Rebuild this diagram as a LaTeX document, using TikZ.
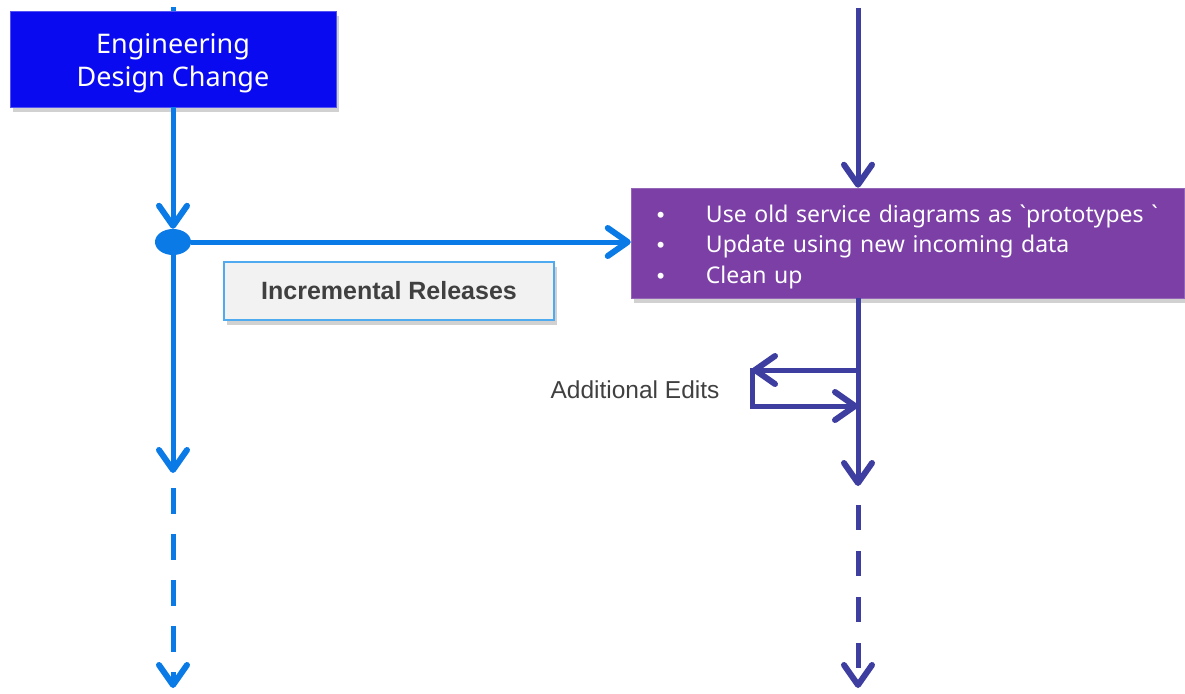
\documentclass[tikz,border=0pt]{standalone}
\usepackage{fontspec}
\setmainfont{Liberation Sans}
\newfontfamily\boxfont{Noto Sans}
\newfontfamily\bulletfont{Liberation Sans}
\usetikzlibrary{arrows.meta,shadows,shapes.geometric}
\definecolor{engblue}{RGB}{10,10,240}
\definecolor{flowblue}{RGB}{10,122,230}
\definecolor{flowpurple}{RGB}{62,62,160}
\definecolor{boxpurple}{RGB}{123,63,166}
\definecolor{relborder}{RGB}{80,170,240}
\definecolor{relfill}{RGB}{242,242,242}
\definecolor{textgray}{RGB}{64,64,64}
\tikzset{
  tipv/.tip={Straight Barb[length=20pt,width=28pt,round,line width=6pt]},
  bflow/.style={draw=flowblue,line width=5pt,-tipv},
  pflow/.style={draw=flowpurple,line width=5pt,-tipv},
  bdash/.style={dash pattern=on 26pt off 20pt},
  pdash/.style={dash pattern=on 25pt off 21pt},
  shadowed/.style={drop shadow={shadow xshift=3pt,shadow yshift=-5pt,opacity=0.3,fill=black!60}},
  engbox/.style={shadowed,fill=engblue,draw=engblue!70,line width=0.5pt,
    minimum width=326pt,minimum height=96pt,inner sep=0pt},
  engtext/.style={text=white,inner sep=0pt,align=center,
    font=\boxfont\fontsize{27}{33}\selectfont},
  procbox/.style={shadowed,fill=boxpurple,draw=boxpurple!80,line width=0.5pt,
    minimum width=553pt,minimum height=110pt,inner sep=0pt},
  proctext/.style={text=white,inner sep=0pt,text width=520pt,align=left,
    font=\boxfont\fontsize{23}{30.5}\selectfont},
  relbox/.style={shadowed,fill=relfill,draw=relborder,line width=1.5pt,text=textgray,
    minimum width=330pt,minimum height=58pt,inner sep=0pt,
    font=\bfseries\fontsize{25}{28}\selectfont},
  dotnode/.style={ellipse,fill=flowblue,minimum width=36pt,minimum height=26pt,inner sep=0pt},
  lbl/.style={text=textgray,inner sep=0pt,font=\fontsize{24.5}{28}\selectfont}
}
\newcommand{\blt}{\makebox[49pt][l]{\bulletfont\fontsize{22}{22}\selectfont\textbullet}}
\begin{document}
\begin{tikzpicture}[x=1pt,y=-1pt]
\useasboundingbox (0,0) rectangle (1185,693);
% left flow coordinates
\coordinate (etop) at (173,7);
\coordinate (b1) at (173,473);
\coordinate (b1s) at (173,488);
\coordinate (b2) at (173,688);
% right flow coordinates
\coordinate (ptop) at (858,8);
\coordinate (p1) at (858,486);
\coordinate (p1s) at (858,505);
\coordinate (p2) at (858,688);
\coordinate (l1) at (858,370);
\coordinate (l2) at (752,370);
\coordinate (l3) at (752,406);
\coordinate (l4) at (858,406);

\node[engbox] (eng) at (173,59) {};
\node[engtext] (engtxt) at ([yshift=-4.5pt]eng.center) {Engineering\\Design Change};
\node[dotnode] (dot) at (173,242) {};
\node[procbox] (proc) at (907.5,243) {};
\node[proctext,anchor=west] (proctxt) at ([xshift=26pt,yshift=-3.5pt]proc.west)
  {\blt Use old service diagrams as `prototypes `\\\blt Update using new incoming data\\\blt Clean up};
\node[relbox] (rel) at (389,291) {Incremental Releases};
\node[lbl] (edits) at (635,390) {Additional Edits};

% left flow
\draw[bflow,-] (etop) -- (eng.north);
\draw[bflow] (eng.south) -- (dot.north);
\draw[bflow] (dot.east) -- (dot.east -| proc.west);
\draw[bflow] (dot.south) -- (b1);
\draw[bflow,bdash] (b1s) -- (b2);
% right flow
\draw[pflow] (ptop) -- (ptop |- proc.north);
\draw[pflow] (ptop |- proc.south) -- (p1);
\draw[pflow,pdash] (p1s) -- (p2);
\draw[pflow] (l1) -- (l2);
\draw[pflow,line cap=rect] (l2) -- (l3) -- (l4);
\end{tikzpicture}
\end{document}
